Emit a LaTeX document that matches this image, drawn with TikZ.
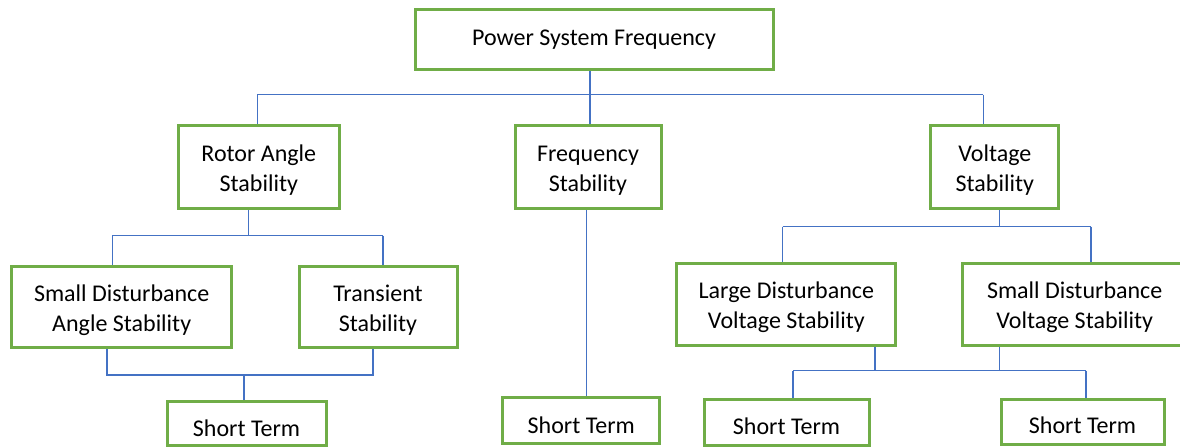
\documentclass[tikz,border=0pt]{standalone}
\usepackage{fontspec}
\setmainfont{Carlito}
\definecolor{boxgreen}{HTML}{70AD47}
\definecolor{lineblue}{HTML}{4472C4}
\begin{document}
\begin{tikzpicture}[x=0.75pt,y=-0.75pt,
  box/.style={draw=boxgreen,line width=2.25pt,rectangle,inner sep=0pt,fill=white},
  txt/.style={inner sep=0pt,align=center,font=\fontsize{18pt}{22.5pt}\selectfont},
  txttwo/.style={txt,yshift=-2.3pt},
  txtst/.style={txt,yshift=-3pt},
  link/.style={draw=lineblue,line width=1.1pt}]
\useasboundingbox (0,0) rectangle (1180,447);
\fill[white] (0,0) rectangle (1180,447);
% boxes
\node[box,minimum width=268.5pt,minimum height=44.8pt] (top) at (594,39.2) {};
\node[box,minimum width=120.75pt,minimum height=62pt] (rotor) at (258.8,167.3) {};
\node[box,minimum width=109.5pt,minimum height=62pt] (freq) at (588,167.3) {};
\node[box,minimum width=95.8pt,minimum height=62pt] (volt) at (994.8,167.3) {};
\node[box,minimum width=165pt,minimum height=60.75pt] (sda) at (121.7,307.2) {};
\node[box,minimum width=118.5pt,minimum height=60.75pt] (trans) at (378,307.2) {};
\node[box,minimum width=164.5pt,minimum height=61.5pt] (ldv) at (786.3,304) {};
\node[box,minimum width=165pt,minimum height=61.5pt] (sdv) at (1072,304) {};
\node[box,minimum width=119.25pt,minimum height=32.8pt] (st1) at (246.5,423.8) {};
\node[box,minimum width=118pt,minimum height=34.7pt] (st2) at (581.3,420.8) {};
\node[box,minimum width=123.75pt,minimum height=34.5pt] (st3) at (786.5,422) {};
\node[box,minimum width=122.25pt,minimum height=33.75pt] (st4) at (1082.5,421.5) {};
% texts
\node[txt] (top-t) at (top) {Power System Frequency};
\node[txttwo] (rotor-t) at (rotor) {Rotor Angle\\Stability};
\node[txttwo] (freq-t) at (freq) {Frequency\\Stability};
\node[txttwo] (volt-t) at (volt) {Voltage\\Stability};
\node[txttwo] (sda-t) at (sda) {Small Disturbance\\Angle Stability};
\node[txttwo] (trans-t) at (trans) {Transient\\Stability};
\node[txttwo] (ldv-t) at (ldv) {Large Disturbance\\Voltage Stability};
\node[txttwo] (sdv-t) at ([xshift=2pt]sdv.center) {Small Disturbance\\Voltage Stability};
\node[txtst] (st1-t) at (st1) {Short Term};
\node[txtst] (st2-t) at (st2) {Short Term};
\node[txtst] (st3-t) at (st3) {Short Term};
\node[txtst] (st4-t) at (st4) {Short Term};
% bus coordinates
\coordinate (b1L) at (257.3,94.7);
\coordinate (b1R) at (983.3,94.7);
\coordinate (b1C) at (590,94.7);
\coordinate (b2C) at (248.7,235.7);
\coordinate (b2L) at (112.3,235.7);
\coordinate (b2R) at (383,235.7);
\coordinate (b3L) at (107,375);
\coordinate (b3R) at (373,375);
\coordinate (b3C) at (244,375);
\coordinate (fx) at (586.7,300);
\coordinate (b4C) at (999.3,226.7);
\coordinate (b4L) at (782.7,226.7);
\coordinate (b4R) at (1091,226.7);
\coordinate (b5a) at (875,370.5);
\coordinate (b5b) at (999.3,370.5);
\coordinate (b5L) at (793,370.5);
\coordinate (b5R) at (1086,370.5);
% connectors
\draw[link] (b1L) -- (b1R);
\draw[link] (top.south -| b1C) -- (freq.north -| b1C);
\draw[link] (b1L) -- (rotor.north -| b1L);
\draw[link] (b1R) -- (volt.north -| b1R);
\draw[link] (rotor.south -| b2C) -- (b2C);
\draw[link] (b2L) -- (b2R);
\draw[link] (b2L) -- (sda.north -| b2L);
\draw[link] (b2R) -- (trans.north -| b2R);
\draw[link] (sda.south -| b3L) -- (b3L) -- (b3R) -- (trans.south -| b3R);
\draw[link] (b3C) -- (st1.north -| b3C);
\draw[link] (freq.south -| fx) -- (st2.north -| fx);
\draw[link] (volt.south -| b4C) -- (b4C);
\draw[link] (b4L) -- (b4R);
\draw[link] (b4L) -- (ldv.north -| b4L);
\draw[link] (b4R) -- (sdv.north -| b4R);
\draw[link] (ldv.south -| b5a) -- (b5a);
\draw[link] (sdv.south -| b5b) -- (b5b);
\draw[link] (b5L) -- (b5R);
\draw[link] (b5L) -- (st3.north -| b5L);
\draw[link] (b5R) -- (st4.north -| b5R);
\end{tikzpicture}
\end{document}
